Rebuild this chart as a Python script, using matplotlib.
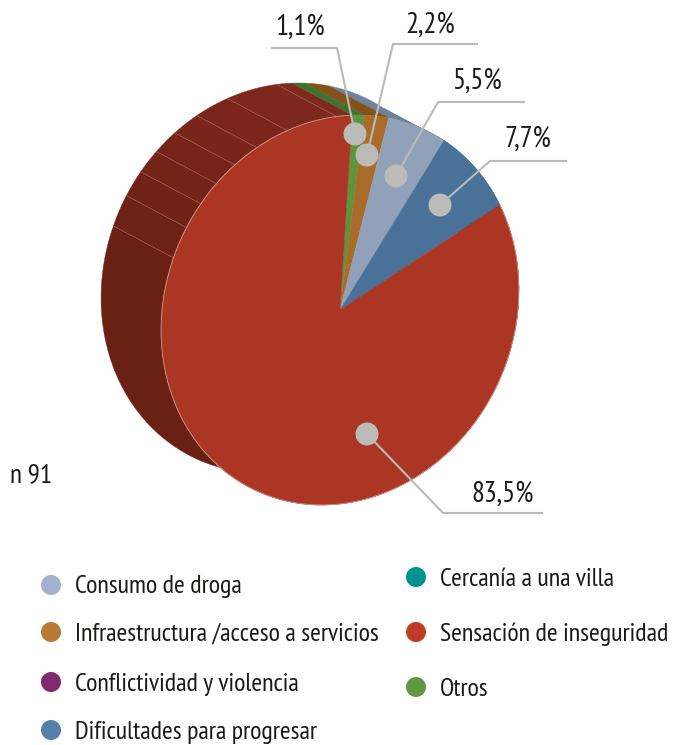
#!/usr/bin/env python3
import numpy as np
import matplotlib
matplotlib.use('Agg')
import matplotlib.pyplot as plt
from matplotlib import font_manager as fm
from matplotlib.patches import Polygon, Circle
from matplotlib.transforms import Affine2D

# slices, clockwise from the top of the pie
slice_labels = ['Otros', 'Infraestructura /acceso a servicios', 'Consumo de droga',
                'Dificultades para progresar', 'Sensación de inseguridad']
slice_values = [1.1, 2.2, 5.5, 7.7, 83.5]
slice_colors = ['#5c9440', '#a96c2a', '#90a1b9', '#4a7299', '#ab3624']
side_colors = ['#3f7230', '#855019', '#6f829b', '#3f5f80', '#6b2014']
value_texts = ['1,1%', '2,2%', '5,5%', '7,7%', '83,5%']

legend_left = ['Consumo de droga', 'Infraestructura /acceso a servicios',
               'Conflictividad y violencia', 'Dificultades para progresar']
legend_left_colors = ['#a0b2cd', '#b87a32', '#802a6b', '#5380a8']
legend_right = ['Cercanía a una villa', 'Sensación de inseguridad', 'Otros']
legend_right_colors = ['#00928f', '#bf3b28', '#62983f']

# facet seams on the red side, degrees clockwise from the top
facet_angles = [-74.5, -65, -57, -49.6, -41.9, -33.6, -23, -7]
facet_colors = ['#6b2014', '#6e2115', '#712216', '#742317', '#772418', '#7a2519', '#7c261b', '#7e271c', '#80291d']

W, H = 674, 745
START = -2  # first slice edge, degrees clockwise from top
# tilted front ellipse, unit circle -> image pixels
M = Affine2D(np.array([[178.0, 18.4, 340.0], [0.0, -195.0, 310.0], [0, 0, 1]]))
DEPTH = np.array([-60, -32])

available = {f.name for f in fm.fontManager.ttflist}
narrow = [n for n in ['PT Sans Narrow', 'Liberation Sans Narrow', 'Roboto Condensed', 'Open Sans Condensed']
          if n in available]
plt.rcParams['font.family'] = narrow + ['DejaVu Sans']

fig = plt.figure(figsize=(W / 100, H / 100), dpi=100)
ax = fig.add_axes([0, 0, 1, 1])


def arc(t0, t1):
    t = np.radians(np.linspace(t0, t1, 80))
    return M.transform(np.column_stack([np.sin(t), np.cos(t)]))


def side(t0, t1, color):
    pts = np.vstack([arc(t0, t1), arc(t1, t0) + DEPTH])
    ax.add_patch(Polygon(pts, closed=True, fc=color, ec=color, lw=0.3, zorder=1))


ends = START + np.cumsum(slice_values) * 3.6
starts = np.concatenate([[START], ends[:-1]])

# red side first, split in facets
bounds = [starts[-1] - 360] + facet_angles + [START]
for i in range(len(bounds) - 1):
    side(bounds[i], bounds[i + 1], facet_colors[i])
for ang in facet_angles:
    p = arc(ang, ang)[0]
    ax.plot([p[0], p[0] + DEPTH[0]], [p[1], p[1] + DEPTH[1]], color='#a0605a', lw=0.5, zorder=2)

# the small slices lie over the red side
for i in range(len(slice_values) - 2, -1, -1):
    side(starts[i], ends[i], side_colors[i])

wedges, _ = ax.pie(slice_values, colors=slice_colors, startangle=90 - START, counterclock=False,
                   radius=1, center=(0, 0))
for w, c in zip(wedges, slice_colors):
    w.set_transform(M + ax.transData)
    w.set_edgecolor(c)
    w.set_linewidth(0.3)
    w.set_zorder(3)
ax.add_patch(Polygon(arc(starts[-1], ends[-1]), closed=False, fill=False,
                     ec='#cf9a90', lw=0.6, zorder=4))
ax.set_aspect('auto')
ax.set_xlim(0, W)
ax.set_ylim(H, 0)
ax.axis('off')

callouts = [
    [(355, 134), (337, 48), (272, 48)],
    [(367, 155), (393, 44), (477, 44)],
    [(396, 176), (438, 102), (524, 102)],
    [(440, 205), (490, 161), (566, 161)],
    [(367, 434), (443, 513), (542, 513)],
]
text_pos = [(300, 27), (430, 25), (477, 81), (528, 139), (503, 494)]
for path, txt, pos in zip(callouts, value_texts, text_pos):
    xs, ys = zip(*path)
    ax.plot(xs, ys, color='#b9bbb6', lw=1.5, solid_joinstyle='miter', zorder=5)
    ax.add_patch(Circle(path[0], 11.5, fc='#bbbcb8', ec='none', zorder=6))
    ax.text(pos[0], pos[1], txt, fontsize=20.7, color='#1a1a18', ha='center', va='center', zorder=7)

ax.text(10, 475, 'n 91', fontsize=19.5, color='#1a1a18', ha='left', va='center')

for lab, col, y in zip(legend_left, legend_left_colors, [585, 632, 682, 730]):
    ax.add_patch(Circle((51, y), 10, fc=col, ec='none'))
    ax.text(75, y + 2, lab, fontsize=18.7, color='#1a1a18', ha='left', va='center')
for lab, col, y in zip(legend_right, legend_right_colors, [577, 632, 687]):
    ax.add_patch(Circle((416, y), 10, fc=col, ec='none'))
    ax.text(440, y + 2, lab, fontsize=18.7, color='#1a1a18', ha='left', va='center')

fig.savefig('out.png', dpi=100)
